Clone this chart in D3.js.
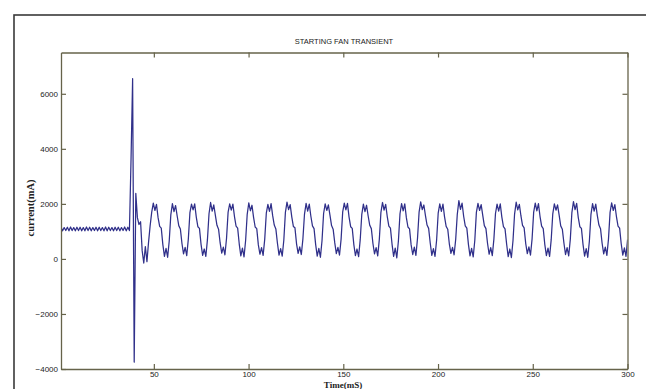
<!DOCTYPE html>
<html>
<head>
<meta charset="utf-8">
<script src="https://cdn.jsdelivr.net/npm/d3@7"></script>
<style>
  html, body { margin: 0; padding: 0; background: #fff; }
  svg { display: block; }
  .tick text { font-family: "Liberation Sans Narrow", "Liberation Sans", Arial, sans-serif; font-size: 8px; fill: #222; }
</style>
</head>
<body>
<div id="chart"></div>
<script>
// samples start at t0 and are spaced dt ms apart
const t0 = 1;
const dt = 0.84;

// current (mA)
const idleCurrent = [
  1150, 1020, 1140, 1030, 1150, 1020, 1160, 1030, 1140, 1020, 1150,
  1030, 1150, 1020, 1140, 1020, 1160, 1030, 1150, 1020, 1140, 1030,
  1150, 1020, 1150, 1030, 1140, 1020, 1160, 1020, 1150, 1030, 1140,
  1020, 1150, 1030, 1150, 1020, 1140, 1030, 1160, 1020, 1150, 1030
];
const startTransient = [3600, 6550, -3750, 2380, 1500, 1250, 1350, 300, -150, 450, -100, 600, 1200, 1700];
const runCurrent = [
  2030, 1760, 1980, 1500, 1180, 1120, 520, 90, 380, 60, 650, 1600,
  2010, 1720, 1940, 1560, 1210, 1090, 560, 180, 420, 120, 720, 1680,
  1990, 1780, 2000, 1520, 1170, 1110, 530, 130, 360, 90, 690, 1640,
  2050, 1740, 1960, 1580, 1220, 1080, 580, 210, 430, 150, 740, 1700,
  2000, 1770, 1990, 1540, 1190, 1120, 540, 110, 390, 70, 670, 1620,
  2040, 1750, 1950, 1510, 1160, 1100, 510, 170, 410, 130, 710, 1660,
  1980, 1730, 2010, 1570, 1230, 1090, 570, 140, 370, 100, 680, 1690,
  2060, 1790, 1970, 1530, 1180, 1130, 550, 200, 440, 160, 730, 1630,
  2020, 1740, 1990, 1550, 1200, 1100, 530, 100, 380, 60, 660, 1650,
  2000, 1760, 1960, 1590, 1210, 1080, 590, 190, 420, 140, 720, 1710,
  2030, 1780, 2020, 1520, 1170, 1110, 520, 120, 360, 80, 690, 1620,
  1990, 1720, 1950, 1560, 1220, 1100, 560, 180, 410, 110, 700, 1680,
  2050, 1770, 1980, 1540, 1190, 1120, 540, 90, 390, 40, 650, 1640,
  2010, 1750, 2000, 1500, 1160, 1090, 510, 160, 430, 130, 740, 1700,
  2070, 1790, 1960, 1570, 1230, 1110, 580, 130, 370, 90, 680, 1660,
  2000, 1730, 1990, 1530, 1180, 1080, 550, 200, 420, 150, 710, 1620,
  2120, 1800, 2030, 1550, 1200, 1120, 530, 110, 380, 70, 670, 1690,
  2020, 1760, 1970, 1580, 1210, 1100, 570, 170, 410, 120, 720, 1650,
  1990, 1740, 2000, 1520, 1170, 1090, 540, 80, 360, 50, 660, 1630,
  2060, 1780, 1980, 1560, 1220, 1130, 560, 190, 440, 140, 730, 1700,
  2030, 1750, 2010, 1540, 1190, 1100, 520, 120, 390, 90, 690, 1640,
  2000, 1770, 1960, 1590, 1200, 1080, 580, 160, 410, 110, 700, 1680,
  2080, 1790, 2020, 1510, 1170, 1110, 530, 100, 370, 60, 650, 1620,
  2010, 1740, 1990, 1570, 1230, 1100, 570, 180, 430, 130, 720, 1690,
  2040, 1760, 1970, 1540, 1190, 1120, 550, 140, 400, 90, 700
];

const xTicks = [50, 100, 150, 200, 250, 300];
const yTicks = [-4000, -2000, 0, 2000, 4000, 6000];

const width = 646;
const height = 389;
const plot = { left: 61, right: 627.5, top: 52.5, bottom: 369 };
const axisColor = '#66634a';
const lineColor = '#30308a';

const current = idleCurrent.concat(startTransient, runCurrent);
const data = current.map((v, i) => ({ t: t0 + i * dt, v: v }));

const svg = d3.select('#chart')
  .append('svg')
  .attr('width', width)
  .attr('height', height);

// outer figure frame
svg.append('rect')
  .attr('x', 14)
  .attr('y', 15)
  .attr('width', 700)
  .attr('height', 500)
  .attr('fill', 'none')
  .attr('stroke', '#3a3a3a')
  .attr('stroke-width', 1.6);

const x = d3.scaleLinear().domain([1, 300]).range([plot.left, plot.right]);
const y = d3.scaleLinear().domain([-4000, 7500]).range([plot.bottom, plot.top]);

svg.append('defs').append('clipPath')
  .attr('id', 'clip')
  .append('rect')
  .attr('x', plot.left)
  .attr('y', plot.top)
  .attr('width', plot.right - plot.left)
  .attr('height', plot.bottom - plot.top);

const line = d3.line()
  .x(d => x(d.t))
  .y(d => y(d.v));

svg.append('path')
  .datum(data)
  .attr('clip-path', 'url(#clip)')
  .attr('fill', 'none')
  .attr('stroke', lineColor)
  .attr('stroke-width', 1.25)
  .attr('stroke-linejoin', 'round')
  .attr('d', line);

// matlab style box: inward ticks on all four sides
const fmt = d3.format('d');
const bottomAxis = d3.axisBottom(x).tickValues(xTicks).tickFormat(fmt).tickSizeInner(-5).tickSizeOuter(0).tickPadding(2);
const topAxis = d3.axisTop(x).tickValues(xTicks).tickSizeInner(-5).tickSizeOuter(0).tickFormat('');
const leftAxis = d3.axisLeft(y).tickValues(yTicks).tickFormat(fmt).tickSizeInner(-5).tickSizeOuter(0).tickPadding(3);
const rightAxis = d3.axisRight(y).tickValues(yTicks).tickSizeInner(-5).tickSizeOuter(0).tickFormat('');

const axes = [
  [bottomAxis, `translate(0,${plot.bottom})`],
  [topAxis, `translate(0,${plot.top})`],
  [leftAxis, `translate(${plot.left},0)`],
  [rightAxis, `translate(${plot.right},0)`]
];

axes.forEach(([ax, tr]) => {
  const g = svg.append('g').attr('transform', tr).call(ax);
  g.select('.domain').attr('stroke', axisColor).attr('stroke-width', 1.3);
  g.selectAll('.tick line').attr('stroke', axisColor).attr('stroke-width', 1.2);
});

svg.append('text')
  .attr('x', 344)
  .attr('y', 44)
  .attr('text-anchor', 'middle')
  .style('font-family', '"Liberation Sans Narrow", "Liberation Sans", Arial, sans-serif')
  .style('font-size', '7.5px')
  .style('fill', '#222')
  .text('STARTING FAN TRANSIENT');

svg.append('text')
  .attr('transform', 'translate(34,208) rotate(-90)')
  .attr('text-anchor', 'middle')
  .style('font-family', '"Liberation Serif", "Times New Roman", serif')
  .style('font-weight', 'bold')
  .style('font-size', '10.5px')
  .style('fill', '#222')
  .text('current(mA)');

// sits at the very bottom edge, as in the reference
svg.append('text')
  .attr('x', 343)
  .attr('y', 387.5)
  .attr('text-anchor', 'middle')
  .style('font-family', '"Liberation Serif", "Times New Roman", serif')
  .style('font-weight', 'bold')
  .style('font-size', '9px')
  .style('fill', '#222')
  .text('Time(mS)');
</script>
</body>
</html>
